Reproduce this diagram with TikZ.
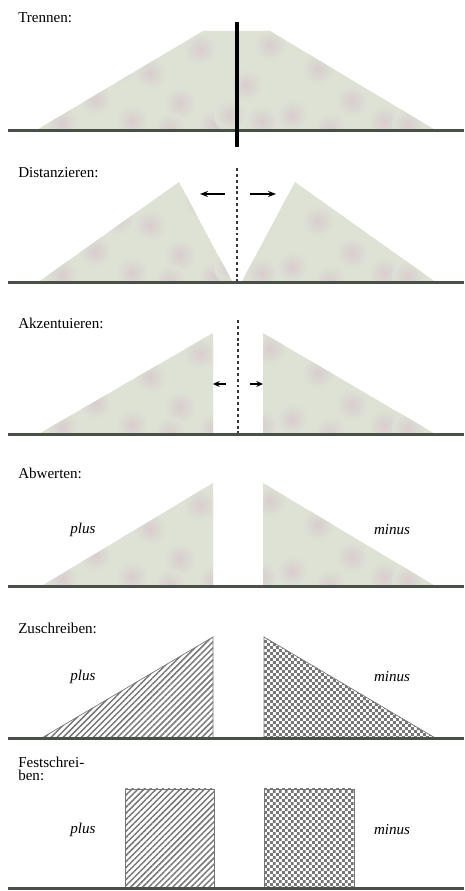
\documentclass[tikz,border=0pt]{standalone}
\usepackage{fontspec}
\setmainfont{Liberation Serif}
\usetikzlibrary{arrows.meta,patterns,patterns.meta}
\definecolor{bodenfarbe}{RGB}{72,80,72}
\definecolor{flaechengruen}{RGB}{221,226,213}
\definecolor{fleckrosa}{RGB}{216,205,206}
\definecolor{schraffgrau}{RGB}{118,118,118}
\definecolor{strichgrau}{RGB}{55,55,55}

% fine checkerboard for the minus side
\pgfdeclarepatternformonly{feinkaro}{\pgfpointorigin}{\pgfqpoint{4.4pt}{4.4pt}}{\pgfqpoint{4.4pt}{4.4pt}}{%
  \pgfpathrectangle{\pgfpointorigin}{\pgfqpoint{2.2pt}{2.2pt}}%
  \pgfpathrectangle{\pgfqpoint{2.2pt}{2.2pt}}{\pgfqpoint{2.2pt}{2.2pt}}%
  \pgfusepath{fill}}

% blurred spots on the grey-green areas
\newcommand{\flecken}{%
  \foreach \fx/\fy in {62/8,95/32,132/10,150/58,180/28,200/82,214/6,246/46,
                       270/86,292/16,318/62,352/30,384/10,118/64,330/2,170/2,
                       408/6,230/16,262/10}
    \shade[inner color=fleckrosa, outer color=flaechengruen] (\fx,\fy) circle (16);
}
\newcommand{\fleckflaeche}[1]{%
  \begin{scope}
    \clip #1;
    \fill[flaechengruen] #1;
    \flecken
  \end{scope}}

\begin{document}
\begin{tikzpicture}[x=0.75pt, y=0.75pt, >={Stealth[length=6pt, width=4.5pt]},
    every node/.style={font=\fontsize{11.3}{9.8}\selectfont},
    titel/.style={anchor=west, align=left, inner sep=0pt},
    wert/.style={font=\fontsize{11.3}{12}\selectfont\itshape, inner sep=0pt},
    boden/.style={bodenfarbe, line width=2.25pt},
    mittellinie/.style={strichgrau, line width=0.8pt, dash pattern=on 2.2pt off 2.2pt},
    pfeil/.style={->, line width=0.9pt},
    kleinpfeil/.style={-{Stealth[length=5pt, width=4.5pt]}, line width=0.9pt},
    schraffur/.style={draw=schraffgrau, line width=0.5pt,
      pattern={Lines[angle=45, distance=3.2pt, line width=1.1pt]}, pattern color=schraffgrau},
    karo/.style={draw=schraffgrau, line width=0.5pt, pattern=feinkaro, pattern color=schraffgrau}]
  \useasboundingbox (0,0) rectangle (464,891);

  % Trennen
  \begin{scope}[shift={(0,760)}]
    \fleckflaeche{(35,0) -- (203,100) -- (270,100) -- (437,0) -- cycle}
    \node[titel] (trennen) at (18,113) {Trennen:};
    \draw[boden] (8,0) -- (464,0);
    \draw[black, line width=2.4pt] (237,-16) -- (237,109);
  \end{scope}

  % Distanzieren
  \begin{scope}[shift={(0,608)}]
    \fleckflaeche{(37,0) -- (179,101) -- (233,0) -- cycle}
    \fleckflaeche{(241,0) -- (295,101) -- (437,0) -- cycle}
    \node[titel] (distanzieren) at (18,110) {Distanzieren:};
    \draw[mittellinie] (237,115) -- (237,0);
    \draw[boden] (8,0) -- (464,0);
    \coordinate (d-l0) at (225,89);
    \coordinate (d-l1) at (200,89);
    \coordinate (d-r0) at (250,89);
    \coordinate (d-r1) at (276,89);
    \draw[pfeil] (d-l0) -- (d-l1);
    \draw[pfeil] (d-r0) -- (d-r1);
  \end{scope}

  % Akzentuieren
  \begin{scope}[shift={(0,456)}]
    \fleckflaeche{(37,0) -- (213,102) -- (213,0) -- cycle}
    \fleckflaeche{(263,102) -- (263,0) -- (437,0) -- cycle}
    \node[titel] (akzentuieren) at (18,112) {Akzentuieren:};
    \draw[mittellinie] (238,115) -- (238,0);
    \draw[boden] (8,0) -- (464,0);
    \coordinate (a-l0) at (226,51);
    \coordinate (a-l1) at (213,51);
    \coordinate (a-r0) at (250,51);
    \coordinate (a-r1) at (263,51);
    \draw[kleinpfeil] (a-l0) -- (a-l1);
    \draw[kleinpfeil] (a-r0) -- (a-r1);
  \end{scope}

  % Abwerten
  \begin{scope}[shift={(0,304)}]
    \fleckflaeche{(40,0) -- (213,104) -- (213,0) -- cycle}
    \fleckflaeche{(263,104) -- (263,0) -- (437,0) -- cycle}
    \node[titel] (abwerten) at (18,114) {Abwerten:};
    \node[wert] (abw-plus) at (83,57) {plus};
    \node[wert] (abw-minus) at (392,57) {minus};
    \draw[boden] (8,0) -- (464,0);
  \end{scope}

  % Zuschreiben
  \begin{scope}[shift={(0,152)}]
    \draw[schraffur] (40,0) -- (213,102) -- (213,0) -- cycle;
    \draw[karo] (264,102) -- (264,0) -- (437,0) -- cycle;
    \node[titel] (zuschreiben) at (18,111) {Zuschreiben:};
    \node[wert] (zu-plus) at (83,62) {plus};
    \node[wert] (zu-minus) at (392,62) {minus};
    \draw[boden] (8,0) -- (464,0);
  \end{scope}

  % Festschreiben
  \begin{scope}[shift={(0,2)}]
    \draw[schraffur] (125,0) rectangle (214,100);
    \draw[karo] (264,0) rectangle (354,100);
    \node[titel] (festschreiben) at (18,120) {Festschrei-\\ben:};
    \node[wert] (fest-plus) at (83,59) {plus};
    \node[wert] (fest-minus) at (392,59) {minus};
    \draw[boden] (8,0) -- (464,0);
  \end{scope}
\end{tikzpicture}
\end{document}
